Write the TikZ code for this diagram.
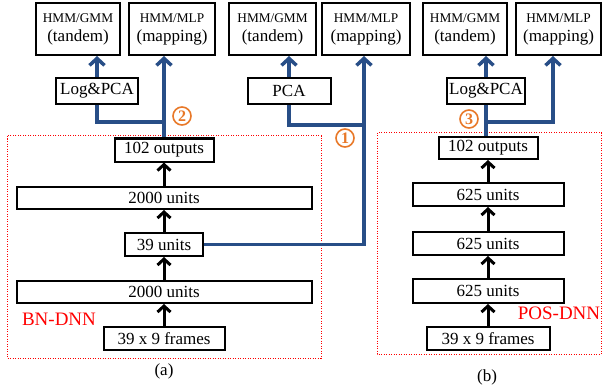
\documentclass[tikz,border=0pt]{standalone}
\usepackage{fontspec}
\setmainfont{Liberation Serif}
\usetikzlibrary{arrows.meta}
\definecolor{flowblue}{RGB}{40,78,135}
\definecolor{markorange}{RGB}{232,120,40}
\newcommand{\bigtext}{\fontsize{17}{19}\selectfont}
\newcommand{\smalltext}{\fontsize{13.3}{15}\selectfont}

\begin{document}
\begin{tikzpicture}[x=1pt,y=-1pt,
		box/.style={draw, line width=2pt, inner sep=0pt, minimum height=23pt, font=\bigtext},
		sysbox/.style={box, minimum height=52pt, align=center},
		flow/.style={flowblue, line width=3.5pt},
		flowarrow/.style={flow, -{Straight Barb[length=7pt,width=15pt]}},
		uparrow/.style={line width=3pt, -{Straight Barb[length=6pt,width=13pt]}},
		circmark/.style={circle, draw=markorange, line width=1.6pt, inner sep=0.6pt, minimum size=18pt, text=markorange, font=\fontsize{16}{16}\selectfont\bfseries},
		netname/.style={red, font=\fontsize{19}{19}\selectfont}]
		\useasboundingbox (0,0) rectangle (602,385);
		
		% Draw the recognisers on top
		\node[sysbox, minimum width=84pt] (tanA) at (78,29) {{\smalltext HMM/GMM}\\(tandem)};
		\node[sysbox, minimum width=86pt] (mapA) at (172,29) {{\smalltext HMM/MLP}\\(mapping)};
		\node[sysbox, minimum width=87pt] (tanM) at (272.5,29) {{\smalltext HMM/GMM}\\(tandem)};
		\node[sysbox, minimum width=88pt] (mapM) at (366,29) {{\smalltext HMM/MLP}\\(mapping)};
		\node[sysbox, minimum width=84pt] (tanB) at (465,29) {{\smalltext HMM/GMM}\\(tandem)};
		\node[sysbox, minimum width=85pt] (mapB) at (558.5,29) {{\smalltext HMM/MLP}\\(mapping)};
		
		% Draw the feature transforms
		\node[box, minimum width=82pt, minimum height=26pt] (logA) at (97,91) {Log\&PCA};
		\node[box, minimum width=83pt, minimum height=26pt] (pcaM) at (289,91) {PCA};
		\node[box, minimum width=78pt, minimum height=26pt] (logB) at (486,91) {Log\&PCA};
		
		% Draw the BN-DNN layers
		\node[box, minimum width=99pt] (outA) at (164,150) {102 outputs};
		\node[box, minimum width=295pt, minimum height=22pt] (hidA2) at (164,198) {2000 units};
		\node[box, minimum width=78pt] (bnA) at (164,244.5) {39 units};
		\node[box, minimum width=295pt, minimum height=22pt] (hidA1) at (164,292) {2000 units};
		\node[box, minimum width=121pt] (inA) at (164,338.5) {39 x 9 frames};
		
		% Draw the POS-DNN layers
		\node[box, minimum width=99pt, minimum height=22pt] (outB) at (488,148) {102 outputs};
		\node[box, minimum width=151pt] (hidB3) at (488,194.5) {625 units};
		\node[box, minimum width=151pt] (hidB2) at (488,243.5) {625 units};
		\node[box, minimum width=151pt, minimum height=24pt] (hidB1) at (488,291) {625 units};
		\node[box, minimum width=123pt] (inB) at (488,338.5) {39 x 9 frames};
		
		\foreach \lo/\hi in {inA/hidA1, hidA1/bnA, bnA/hidA2, hidA2/outA, inB/hidB1, hidB1/hidB2, hidB2/hidB3, hidB3/outB}
			\draw[uparrow] (\lo) -- (\hi);
		
		% Dotted frames round the networks
		\draw[red, line width=1pt, dash pattern=on 1pt off 1.5pt] (7,136) rectangle (321,358);
		\draw[red, line width=1pt, dash pattern=on 1pt off 1.5pt] (377,133) rectangle (601,354);
		\node[netname] (bnname) at (59,319) {BN-DNN};
		\node[netname] (posname) at (559,313) {POS-DNN};
		
		% Blue feature paths
		\coordinate (jA) at (164,122);
		\coordinate (jM) at (364,125);
		\coordinate (jB) at (487,122);
		\draw[flowarrow] (outA.north) -- (outA.north |- mapA.south);
		\draw[flow] (logA.south) |- (jA);
		\draw[flowarrow] (logA.north) -- (logA.north |- tanA.south);
		\draw[flowarrow] (bnA.east) -| ([xshift=-2pt]mapM.south);
		\draw[flow] (pcaM.south) |- (jM);
		\draw[flowarrow] (pcaM.north) -- (pcaM.north |- tanM.south);
		\draw[flow] (logB.south) -- (logB.south |- outB.north);
		\draw[flowarrow] (jB) -| ([xshift=-5.5pt]mapB.south);
		\draw[flowarrow] (logB.north) -- (logB.north |- tanB.south);
		
		% Circled numbers
		\node[circmark] (m1) at (345,138) {1};
		\node[circmark] (m2) at (182,116) {2};
		\node[circmark] (m3) at (469,119) {3};
		
		% Captions
		\node[font=\bigtext] (capA) at (164,371) {(a)};
		\node[font=\bigtext] (capB) at (487,377) {(b)};
	\end{tikzpicture}
\end{document}
